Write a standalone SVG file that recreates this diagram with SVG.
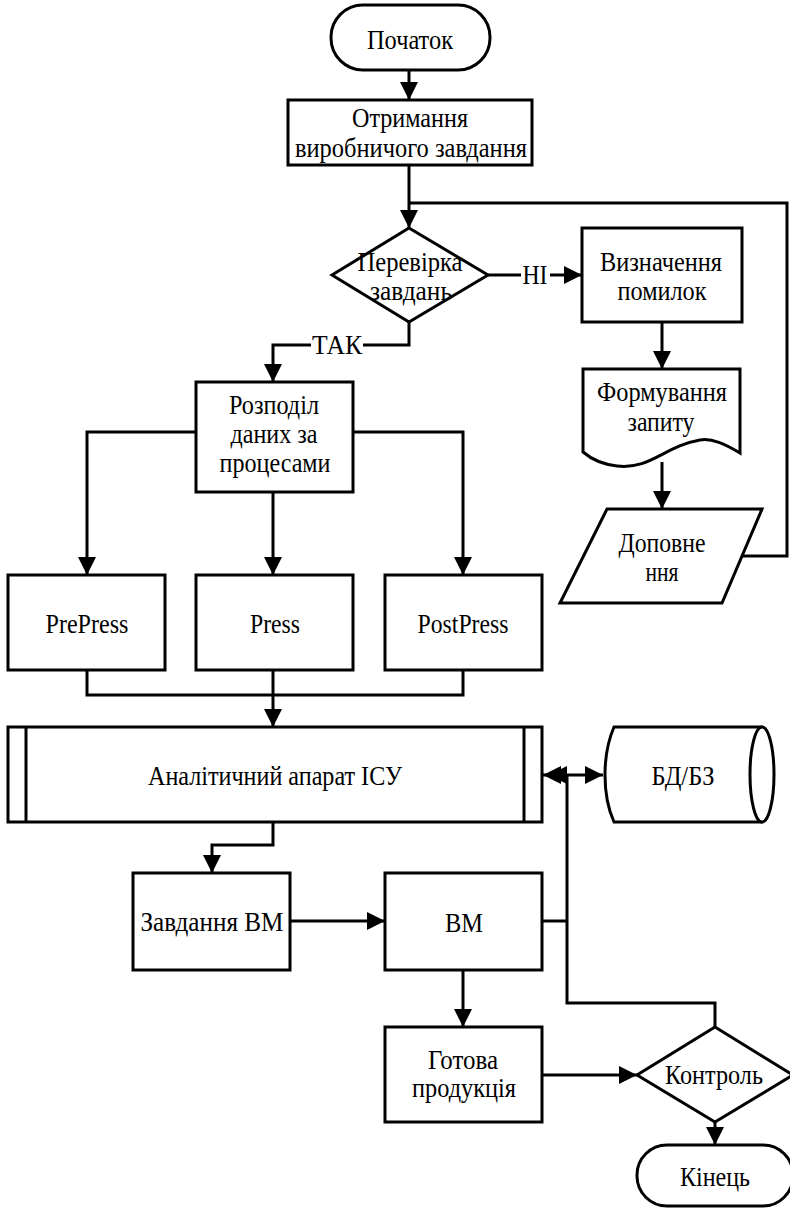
<svg xmlns="http://www.w3.org/2000/svg" width="790" height="1208" viewBox="0 0 790 1208">
  <defs>
    <marker id="arrow" markerUnits="userSpaceOnUse" viewBox="0 0 18 18" markerWidth="18" markerHeight="18" refX="18" refY="9" orient="auto">
      <path d="M0,0 L18,9 L0,18 z" fill="#000"/>
    </marker>
    <marker id="arrowStart" markerUnits="userSpaceOnUse" viewBox="0 0 18 18" markerWidth="18" markerHeight="18" refX="0" refY="9" orient="auto">
      <path d="M18,0 L0,9 L18,18 z" fill="#000"/>
    </marker>
    <style>
      .shape { fill: #fff; stroke: #000; stroke-width: 3; }
      .line { fill: none; stroke: #000; stroke-width: 3; }
      .arr { marker-end: url(#arrow); }
    </style>
  </defs>
  <rect width="790" height="1208" fill="#fff"/>

  <g font-family="'Liberation Serif', 'Times New Roman', serif" font-size="27" text-anchor="middle" fill="#000">

  <!-- connectors -->
  <g id="connectors">
    <path class="line arr" d="M409,70 V100"/>
    <path class="line arr" d="M409,165 V228"/>
    <path class="line" d="M742,556 H787 V203 H409"/>
    <path class="line arr" d="M488,275 H582"/>
    <path class="line arr" d="M409,322 V345 H273 V382"/>
    <path class="line arr" d="M662,322 V369"/>
    <path class="line arr" d="M662,462 V509"/>
    <path class="line arr" d="M196,432 H87 V575"/>
    <path class="line arr" d="M273,492 V575"/>
    <path class="line arr" d="M353,432 H463 V575"/>
    <path class="line" d="M87,670 V695 H463 V670"/>
    <path class="line arr" d="M273,670 V727"/>
    <path class="line arr" d="M273,822 V845 H212 V873"/>
    <path class="line arr" d="M290,921 H385"/>
    <path class="line arr" d="M463,970 V1027"/>
    <path class="line arr" d="M542,1075 H637"/>
    <path class="line arr" d="M715,1122 V1145"/>
    <path class="line" d="M715,1027 V1003 H567 V775"/>
    <path class="line" d="M542,921 H567"/>
    <path class="line arr" d="M567,775 H549"/>
    <path class="line arr" d="M543,775 H603" marker-start="url(#arrowStart)"/>
    <!-- branch labels -->
    <rect x="521" y="262" width="29" height="26" fill="#fff"/>
    <text x="535" y="284" textLength="25" lengthAdjust="spacingAndGlyphs">НІ</text>
    <rect x="311" y="332" width="52" height="26" fill="#fff"/>
    <text x="337" y="354" textLength="50" lengthAdjust="spacingAndGlyphs">ТАК</text>
  </g>

  <g id="start">
    <rect class="shape" x="331" y="5" width="159" height="65" rx="32"/>
    <text x="410" y="49" textLength="86" lengthAdjust="spacingAndGlyphs">Початок</text>
  </g>

  <g id="receive-task">
    <rect class="shape" x="288" y="100" width="244" height="65"/>
    <text x="410" y="127" textLength="116" lengthAdjust="spacingAndGlyphs">Отримання</text>
    <text x="411" y="157" textLength="232" lengthAdjust="spacingAndGlyphs">виробничого завдання</text>
  </g>

  <g id="check-tasks">
    <polygon class="shape" points="409,228 488,275 409,322 332,275"/>
    <text x="410" y="271" textLength="105" lengthAdjust="spacingAndGlyphs">Перевірка</text>
    <text x="411" y="300" textLength="82" lengthAdjust="spacingAndGlyphs">завдань</text>
  </g>

  <g id="find-errors">
    <rect class="shape" x="582" y="228" width="160" height="94"/>
    <text x="661" y="271" textLength="122" lengthAdjust="spacingAndGlyphs">Визначення</text>
    <text x="662" y="300" textLength="89" lengthAdjust="spacingAndGlyphs">помилок</text>
  </g>

  <g id="request">
    <path class="shape" d="M583,369 H740 V453 C725,444 712,438 700,440 C665,446 650,470 617,466 C600,464 590,458 583,452 Z"/>
    <text x="662" y="401" textLength="130" lengthAdjust="spacingAndGlyphs">Формування</text>
    <text x="661" y="431" textLength="67" lengthAdjust="spacingAndGlyphs">запиту</text>
  </g>

  <g id="supplement">
    <polygon class="shape" points="607,509 762,509 722,603 560,603"/>
    <text x="662" y="552" textLength="87" lengthAdjust="spacingAndGlyphs">Доповне</text>
    <text x="662" y="581" textLength="33" lengthAdjust="spacingAndGlyphs">ння</text>
  </g>

  <g id="split-data">
    <rect class="shape" x="196" y="382" width="157" height="110"/>
    <text x="274" y="414" textLength="90" lengthAdjust="spacingAndGlyphs">Розподіл</text>
    <text x="274" y="443" textLength="87" lengthAdjust="spacingAndGlyphs">даних за</text>
    <text x="275" y="472" textLength="111" lengthAdjust="spacingAndGlyphs">процесами</text>
  </g>

  <g id="prepress">
    <rect class="shape" x="8" y="575" width="157" height="95"/>
    <text x="87" y="633" textLength="83" lengthAdjust="spacingAndGlyphs">PrePress</text>
  </g>

  <g id="press">
    <rect class="shape" x="196" y="575" width="157" height="95"/>
    <text x="275" y="633" textLength="50" lengthAdjust="spacingAndGlyphs">Press</text>
  </g>

  <g id="postpress">
    <rect class="shape" x="385" y="575" width="157" height="95"/>
    <text x="463" y="633" textLength="91" lengthAdjust="spacingAndGlyphs">PostPress</text>
  </g>

  <g id="analytics">
    <rect class="shape" x="8" y="727" width="534" height="95"/>
    <line class="line" x1="26" y1="727" x2="26" y2="822"/>
    <line class="line" x1="524" y1="727" x2="524" y2="822"/>
    <text x="275" y="785" textLength="254" lengthAdjust="spacingAndGlyphs">Аналітичний апарат ІСУ</text>
  </g>

  <g id="database">
    <path class="shape" d="M614,727 H762 A13,48 0 0 1 762,822 H614 C602,795 602,755 614,727 Z"/>
    <ellipse class="shape" cx="762" cy="774.5" rx="12" ry="47.5"/>
    <text x="683" y="785" textLength="63" lengthAdjust="spacingAndGlyphs">БД/БЗ</text>
  </g>

  <g id="machine-task">
    <rect class="shape" x="133" y="873" width="157" height="97"/>
    <text x="212" y="931" textLength="143" lengthAdjust="spacingAndGlyphs">Завдання ВМ</text>
  </g>

  <g id="machine">
    <rect class="shape" x="385" y="873" width="157" height="97"/>
    <text x="464" y="932" textLength="38" lengthAdjust="spacingAndGlyphs">ВМ</text>
  </g>

  <g id="product">
    <rect class="shape" x="385" y="1027" width="157" height="95"/>
    <text x="463" y="1069" textLength="70" lengthAdjust="spacingAndGlyphs">Готова</text>
    <text x="464" y="1097" textLength="104" lengthAdjust="spacingAndGlyphs">продукція</text>
  </g>

  <g id="control">
    <polygon class="shape" points="715,1027 793,1075 715,1122 637,1075"/>
    <text x="714" y="1084" textLength="98" lengthAdjust="spacingAndGlyphs">Контроль</text>
  </g>

  <g id="end">
    <rect class="shape" x="637" y="1145" width="156" height="61" rx="30"/>
    <text x="715" y="1186" textLength="70" lengthAdjust="spacingAndGlyphs">Кінець</text>
  </g>

  </g>
</svg>
